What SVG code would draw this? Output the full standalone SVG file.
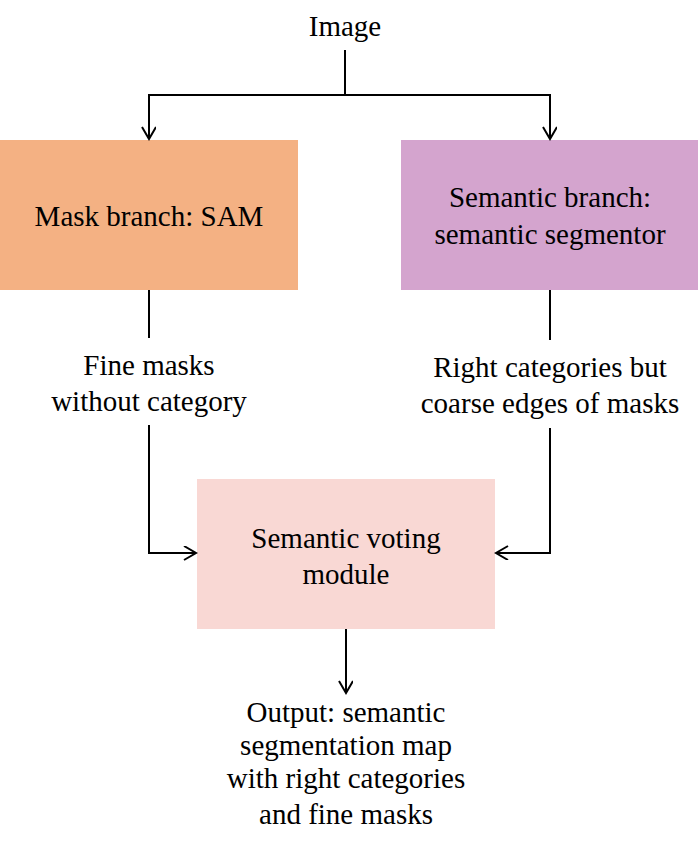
<svg xmlns="http://www.w3.org/2000/svg" width="700" height="841" viewBox="0 0 700 841">
<style>
text{font-family:"Liberation Serif","Times New Roman",serif;font-size:29px;fill:#000;text-anchor:middle}
.c{fill:none;stroke:#000;stroke-width:2}
</style>
<defs>
<marker id="a" markerWidth="16" markerHeight="16" refX="13" refY="7" orient="auto" markerUnits="userSpaceOnUse">
<path d="M1,0 L13,7 L1,14" fill="none" stroke="#000" stroke-width="2"/>
</marker>
</defs>
<rect width="700" height="841" fill="#fff"/>
<g id="image"><text x="345" y="36">Image</text></g>
<g id="mask"><rect x="0" y="140" width="298" height="150" fill="#F4B183"/><text x="149" y="226">Mask branch: SAM</text></g>
<g id="semantic"><rect x="401" y="140" width="297" height="150" fill="#D4A4CE"/><text x="550" y="207">Semantic branch:</text><text x="550" y="244">semantic segmentor</text></g>
<g id="fine"><text x="149" y="375">Fine masks</text><text x="149" y="411">without category</text></g>
<g id="right"><text x="550" y="377">Right categories but</text><text x="550" y="413">coarse edges of masks</text></g>
<g id="voting"><rect x="197" y="479" width="298" height="150" fill="#F9D8D4"/><text x="346" y="548">Semantic voting</text><text x="346" y="584">module</text></g>
<g id="output"><text x="346" y="722">Output: semantic</text><text x="346" y="755">segmentation map</text><text x="346" y="788">with right categories</text><text x="346" y="824">and fine masks</text></g>
<g id="connectors">
<path class="c" d="M345,50 V95"/>
<path class="c" d="M345,95 H149 V139" marker-end="url(#a)"/>
<path class="c" d="M345,95 H550 V139" marker-end="url(#a)"/>
<path class="c" d="M149,290 V338"/>
<path class="c" d="M550,290 V340"/>
<path class="c" d="M149,425 V553 H196" marker-end="url(#a)"/>
<path class="c" d="M550,428 V553 H496" marker-end="url(#a)"/>
<path class="c" d="M346,629 V693" marker-end="url(#a)"/>
</g>
</svg>
